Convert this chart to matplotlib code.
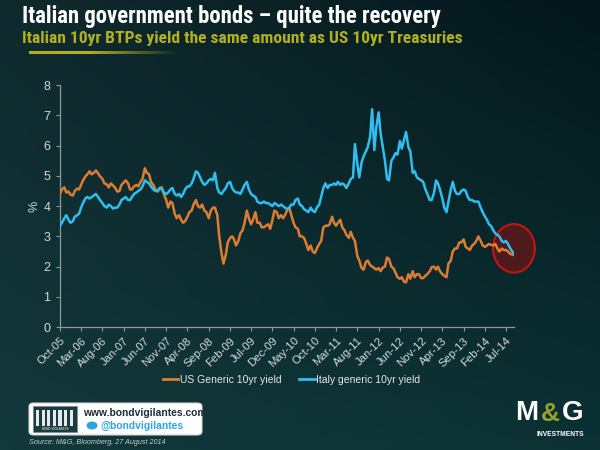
import numpy as np
import pandas as pd
import matplotlib
matplotlib.use("Agg")
import matplotlib.pyplot as plt
import matplotlib.dates as mdates
from matplotlib import font_manager
from matplotlib.patches import FancyBboxPatch, Rectangle, Ellipse
from matplotlib.lines import Line2D

# semi-monthly readings (1st and 16th of each month), Oct 2005 - Aug 2014, last point 27 Aug 2014
us_yield = [
    4.40, 4.55, 4.62, 4.45, 4.48, 4.38,  # 2005
    4.35, 4.50, 4.58, 4.55, 4.70, 4.85, 4.98, 5.05, 5.15, 5.05, 5.10, 5.18,
    5.08, 4.98, 4.90, 4.75, 4.72, 4.62, 4.75, 4.68, 4.60, 4.48, 4.50, 4.70,  # 2006
    4.78, 4.85, 4.75, 4.55, 4.55, 4.65, 4.70, 4.65, 4.80, 4.90, 5.25, 5.10,
    5.05, 4.80, 4.70, 4.55, 4.48, 4.60, 4.62, 4.40, 4.20, 3.95, 4.15, 4.10,  # 2007
    3.75, 3.60, 3.70, 3.55, 3.45, 3.50, 3.65, 3.80, 3.85, 4.05, 4.20, 4.00,
    3.95, 4.05, 3.85, 3.80, 3.60, 3.85, 3.95, 3.95, 3.70, 3.00, 2.45, 2.10,  # 2008
    2.40, 2.80, 2.95, 3.00, 2.90, 2.70, 2.85, 3.10, 3.20, 3.45, 3.85, 3.60,
    3.40, 3.55, 3.80, 3.45, 3.45, 3.30, 3.30, 3.35, 3.40, 3.25, 3.55, 3.85,  # 2009
    3.80, 3.60, 3.70, 3.60, 3.70, 3.85, 3.95, 3.70, 3.45, 3.30, 3.25, 3.00,
    3.00, 2.95, 2.75, 2.55, 2.70, 2.50, 2.45, 2.60, 2.75, 2.85, 3.30, 3.35,  # 2010
    3.35, 3.40, 3.65, 3.45, 3.35, 3.45, 3.55, 3.30, 3.20, 3.05, 2.95, 3.15,
    2.95, 2.85, 2.35, 2.20, 1.95, 1.90, 2.15, 2.20, 2.05, 2.00, 1.95, 1.90,  # 2011
    1.95, 1.85, 1.98, 2.00, 2.30, 2.25, 2.00, 1.95, 1.80, 1.65, 1.60, 1.65,
    1.50, 1.48, 1.75, 1.60, 1.85, 1.65, 1.75, 1.75, 1.62, 1.62, 1.70, 1.75,  # 2012
    1.85, 1.98, 2.00, 1.90, 2.00, 1.85, 1.75, 1.70, 1.65, 2.10, 2.20, 2.50,
    2.60, 2.60, 2.80, 2.80, 2.90, 2.65, 2.60, 2.55, 2.70, 2.75, 2.85, 3.00,  # 2013
    2.85, 2.70, 2.65, 2.70, 2.75, 2.72, 2.70, 2.75, 2.60, 2.50, 2.60, 2.55,
    2.55, 2.50, 2.42, 2.40, 2.38,  # 2014
]
italy_yield = [
    3.35, 3.45, 3.60, 3.70, 3.55, 3.45,  # 2005
    3.50, 3.65, 3.70, 3.75, 3.95, 4.10, 4.25, 4.30, 4.25, 4.30, 4.35, 4.40,
    4.30, 4.20, 4.10, 4.00, 3.95, 4.05, 4.00, 3.92, 3.95, 3.95, 4.05, 4.20,  # 2006
    4.25, 4.30, 4.20, 4.20, 4.30, 4.40, 4.45, 4.50, 4.55, 4.65, 4.85, 4.80,
    4.75, 4.65, 4.55, 4.50, 4.50, 4.60, 4.55, 4.45, 4.40, 4.45, 4.55, 4.60,  # 2007
    4.40, 4.35, 4.40, 4.30, 4.40, 4.55, 4.65, 4.65, 4.75, 4.90, 5.15, 5.10,
    4.95, 4.80, 4.70, 4.75, 4.85, 4.90, 4.85, 5.10, 4.60, 4.45, 4.40, 4.50,  # 2008
    4.60, 4.75, 4.80, 4.60, 4.50, 4.45, 4.45, 4.40, 4.55, 4.70, 4.80, 4.55,
    4.40, 4.35, 4.30, 4.15, 4.10, 4.10, 4.15, 4.10, 4.10, 4.05, 4.00, 4.10,  # 2009
    4.05, 4.00, 4.05, 4.00, 3.95, 3.90, 3.95, 4.05, 4.05, 4.20, 4.25, 4.05,
    4.00, 3.90, 3.85, 3.80, 3.95, 3.85, 3.80, 3.95, 4.05, 4.30, 4.60, 4.75,  # 2010
    4.60, 4.70, 4.70, 4.75, 4.70, 4.80, 4.70, 4.75, 4.70, 4.60, 4.75, 4.90,
    4.95, 6.05, 5.40, 4.95, 5.45, 5.65, 5.80, 5.95, 6.30, 7.20, 5.85, 6.60,  # 2011
    7.10, 6.40, 5.90, 5.50, 4.90, 4.85, 5.50, 5.60, 5.75, 5.70, 6.15, 5.90,
    6.20, 6.45, 5.95, 5.80, 5.10, 5.15, 4.95, 4.90, 4.85, 4.80, 4.55, 4.40,  # 2012
    4.20, 4.20, 4.45, 4.85, 4.75, 4.55, 4.25, 3.95, 3.80, 4.15, 4.55, 4.80,
    4.50, 4.40, 4.40, 4.50, 4.55, 4.50, 4.30, 4.20, 4.20, 4.15, 4.15, 4.15,  # 2013
    3.95, 3.80, 3.65, 3.55, 3.40, 3.35, 3.20, 3.10, 3.05, 3.00, 2.85, 2.80,
    2.85, 2.75, 2.60, 2.50, 2.43,  # 2014
]
dates = pd.date_range("2005-10-01", "2014-08-15", freq="SMS").append(
    pd.DatetimeIndex(["2014-08-27"]))
tick_dates = pd.date_range("2005-10-01", "2014-07-01", freq="5MS")

title = "Italian government bonds \u2013 quite the recovery"
subtitle = "Italian 10yr BTPs yield the same amount as US 10yr Treasuries"
source = "Source: M&G, Bloomberg, 27 August 2014"

# narrow font for the headings if there is one, else shrink regular Arial-like
installed = {f.name for f in font_manager.fontManager.ttflist}
head_font, head_scale = ["Liberation Sans", "DejaVu Sans"], 0.83
for cand in ["Liberation Sans Narrow", "Roboto Condensed", "Open Sans Condensed"]:
    if cand in installed:
        head_font, head_scale = [cand, "DejaVu Sans"], 1.0
        break
arial = ["Liberation Sans", "DejaVu Sans"]
orange = "#de7d32"
blue = "#2dbff0"
grey_txt = "#d4d9db"

fig = plt.figure(figsize=(6, 4.5), dpi=100)

# background gradient
bg = fig.add_axes([0, 0, 1, 1], zorder=-10)
yy, xx = np.mgrid[0:1:120j, 0:1:160j]
tl = np.array([0.060, 0.165, 0.18])
tr = np.array([0.015, 0.090, 0.105])
bl = np.array([0.075, 0.220, 0.230])
br = np.array([0.045, 0.195, 0.205])
img = ((1 - xx)[..., None] * (1 - yy)[..., None] * tl + xx[..., None] * (1 - yy)[..., None] * tr
       + (1 - xx)[..., None] * yy[..., None] * bl + xx[..., None] * yy[..., None] * br)
bg.imshow(img, aspect="auto", extent=[0, 1, 0, 1], origin="upper")
bg.set_axis_off()

ax = fig.add_axes([0.1, 0.273, 0.757, 0.538])
ax.set_facecolor("none")

cy = (us_yield[-1] + italy_yield[-1]) / 2 + 0.2
ax.add_patch(Ellipse((mdates.date2num(dates[-1]), cy), width=300, height=1.6,
                     facecolor="#4e1a1c", edgecolor="#c41414", lw=1.5,
                     clip_on=False, zorder=1))
ax.plot(dates, us_yield, color=orange, lw=1.8, zorder=3, label="US Generic 10yr yield")
ax.plot(dates, italy_yield, color=blue, lw=1.8, zorder=3, label="Italy generic 10yr yield")

ax.set_ylim(0, 8)
ax.set_yticks(range(0, 9))
ax.set_xlim(pd.Timestamp("2005-10-01"), pd.Timestamp("2014-08-29"))
ax.set_xticks(tick_dates)
ax.set_xticklabels([d.strftime("%b-%y") for d in tick_dates], rotation=45,
                   ha="right", rotation_mode="anchor")
for lab in ax.get_xticklabels() + ax.get_yticklabels():
    lab.set_family(arial)
ax.tick_params(axis="both", colors="#8d9a9c", labelcolor=grey_txt, length=3, width=0.8)
ax.tick_params(axis="x", labelsize=8.2, pad=3)
ax.tick_params(axis="y", labelsize=9, pad=4)
for s in ["top", "right"]:
    ax.spines[s].set_visible(False)
for s in ["left", "bottom"]:
    ax.spines[s].set_color("#8d9a9c")
    ax.spines[s].set_linewidth(0.9)
ax.set_ylabel("%", color=grey_txt, fontsize=9, family=arial, labelpad=2)

fig.legend(handles=[Line2D([], [], color=orange, lw=2), Line2D([], [], color=blue, lw=2)],
           labels=["US Generic 10yr yield", "Italy generic 10yr yield"],
           loc="center", bbox_to_anchor=(0.486, 1 - 380 / 450), ncol=2, frameon=False,
           handlelength=1.5, handletextpad=0.15, columnspacing=1.7,
           prop={"family": arial, "size": 7.5}, labelcolor="#e6e8e8")

# titles
fig.text(22 / 600, 1 - 17 / 450, title, color="white", fontsize=16.4 * head_scale,
         weight="bold", family=head_font, va="center")
fig.text(22 / 600, 1 - 38 / 450, subtitle, color="#b3b020", fontsize=12.6 * head_scale,
         weight="bold", family=head_font, va="center")
ul = fig.add_axes([29 / 600, 1 - 54 / 450, 150 / 600, 3 / 450])
grad = np.zeros((1, 100, 4))
grad[..., 0], grad[..., 1], grad[..., 2] = 0.70, 0.69, 0.13
grad[0, :, 3] = np.concatenate([np.ones(40), np.linspace(1, 0, 60)])
ul.imshow(grad, aspect="auto")
ul.set_axis_off()

# bond vigilantes box
fig.patches.append(FancyBboxPatch((29 / 600, 1 - 435 / 450), 173 / 600, 32 / 450,
                                  boxstyle="round,pad=0,rounding_size=0.008",
                                  transform=fig.transFigure, facecolor="white",
                                  edgecolor="#cfd4d4", lw=0.8))
fig.patches.append(Rectangle((33 / 600, 1 - 432 / 450), 44 / 600, 26 / 450,
                             transform=fig.transFigure, facecolor="#1c3a40",
                             edgecolor="#7c8c90", lw=0.6))
for i in range(7):
    fig.patches.append(Rectangle(((36 + i * 5.6) / 600, 1 - 426 / 450), 3.2 / 600, 16 / 450,
                                 transform=fig.transFigure, facecolor="#e4eaea", lw=0))
fig.text(55 / 600, 1 - 429.5 / 450, "BOND VIGILANTES", color="white", fontsize=2.2,
         ha="center", va="center", family=arial)
fig.text(83 / 600, 1 - 413 / 450, "www.bondvigilantes.com", color="#1e2c36", fontsize=7.4,
         weight="bold", va="center", family=arial)
fig.patches.append(Ellipse((92 / 600, 1 - 425.5 / 450), 11 / 600, 8 / 450,
                           transform=fig.transFigure, facecolor="#2aa6e0", lw=0))
fig.text(100 / 600, 1 - 425.5 / 450, "@bondvigilantes", color="#2aa6e0", fontsize=7.4,
         weight="bold", va="center", family=arial)
fig.text(29 / 600, 1 - 442 / 450, source, color="#c5cdcd", fontsize=5.2, style="italic",
         va="center", family=arial)

# M&G logo
fig.text(515 / 600, 1 - 413 / 450, "M", color="white", fontsize=20, weight="bold",
         va="center", family=arial)
fig.text(541 / 600, 1 - 414 / 450, "&", color="#97a329", fontsize=19, weight="bold",
         va="center", family=arial)
fig.text(562 / 600, 1 - 413 / 450, "G", color="white", fontsize=20, weight="bold",
         va="center", family=arial)
fig.text(584 / 600, 1 - 434 / 450, "INVESTMENTS", color="white", fontsize=4.8, weight="bold",
         ha="right", va="center", family=arial)

fig.savefig("out.png", dpi=100)
